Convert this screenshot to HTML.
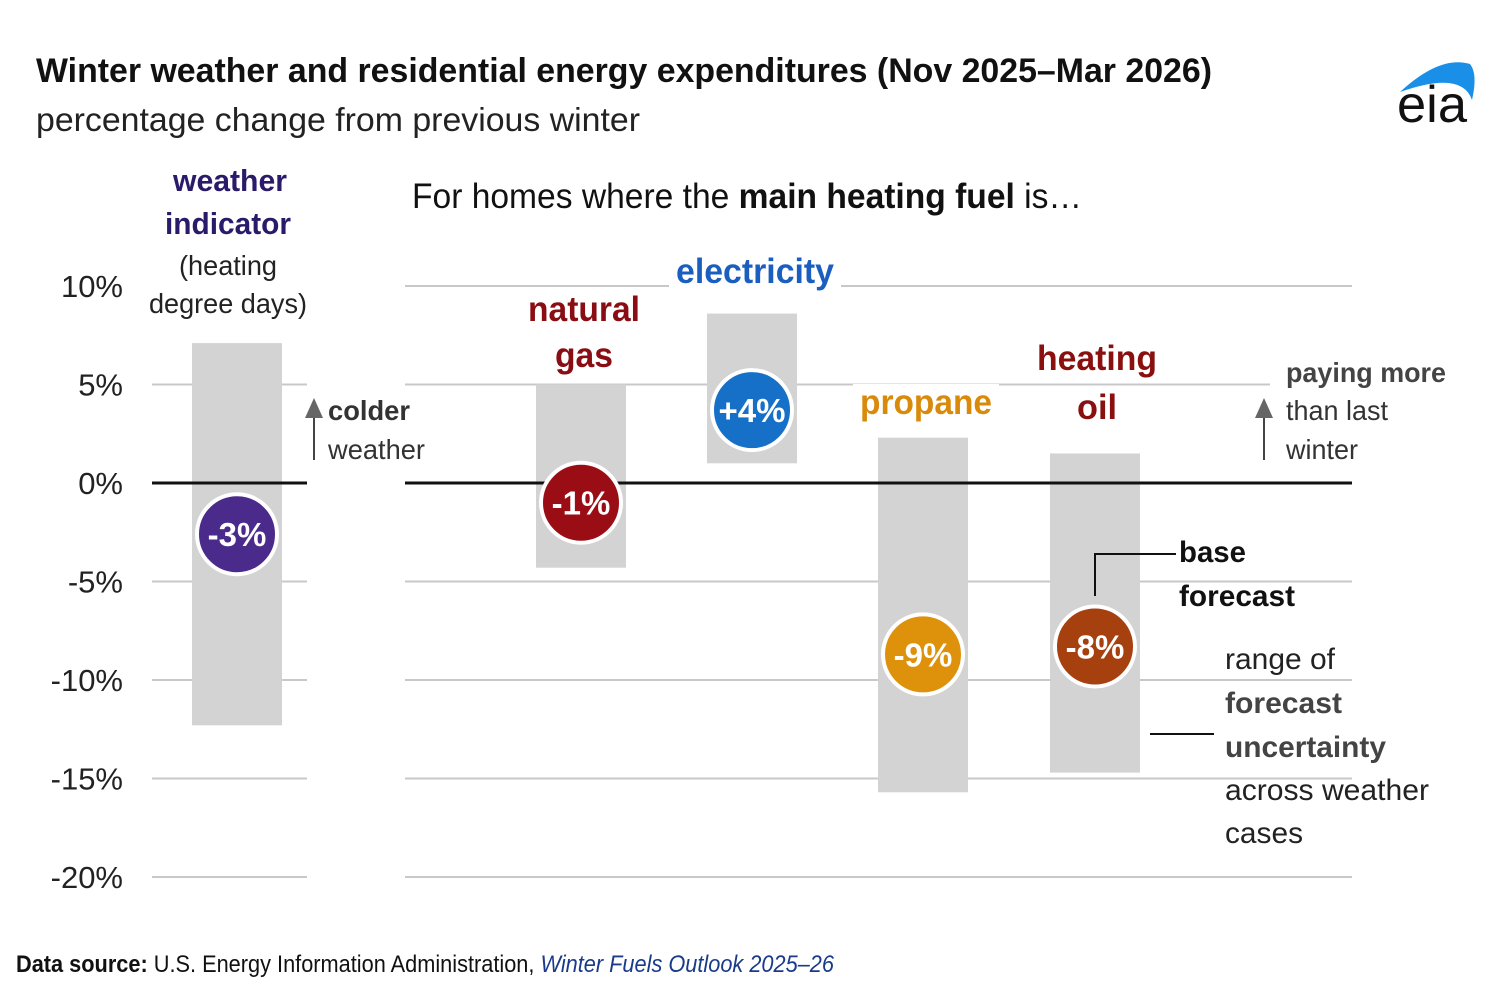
<!DOCTYPE html>
<html><head><meta charset="utf-8"><style>
body{margin:0;background:#fff;width:1500px;height:1000px;overflow:hidden;font-family:"Liberation Sans",sans-serif}
svg text{font-family:"Liberation Sans",sans-serif}
</style></head><body>
<svg id="c" width="1500" height="1000">
<text x="36" y="82" font-size="34" font-weight="bold" fill="#111" textLength="1176" lengthAdjust="spacingAndGlyphs">Winter weather and residential energy expenditures (Nov 2025–Mar 2026)</text>
<text x="36" y="131" font-size="33" fill="#222" textLength="604" lengthAdjust="spacingAndGlyphs">percentage change from previous winter</text>
<g>
<path d="M1400 92 Q1440 55 1470 64 Q1478 74 1472 100 Q1462 70 1400 92Z" fill="#1a8fe8"/>
<text x="1397" y="122" font-size="52" fill="#111" textLength="70" lengthAdjust="spacingAndGlyphs">eia</text>
</g>
<g id="grid"></g>
<g id="bars"></g>
<text x="230" y="191" text-anchor="middle" font-size="31" font-weight="bold" fill="#2a1a6a" textLength="114" lengthAdjust="spacingAndGlyphs">weather</text>
<text x="228" y="234" text-anchor="middle" font-size="31" font-weight="bold" fill="#2a1a6a" textLength="126" lengthAdjust="spacingAndGlyphs">indicator</text>
<rect x="140" y="250" width="180" height="70" fill="#fff"/>
<text x="228" y="275" text-anchor="middle" font-size="28" fill="#222" textLength="98" lengthAdjust="spacingAndGlyphs">(heating</text>
<text x="228" y="313" text-anchor="middle" font-size="28" fill="#222" textLength="158" lengthAdjust="spacingAndGlyphs">degree days)</text>
<text x="412" y="208" font-size="35" fill="#111" textLength="670" lengthAdjust="spacingAndGlyphs">For homes where the <tspan font-weight="bold">main heating fuel</tspan> is…</text>
<g>
<line x1="314" y1="416" x2="314" y2="460" stroke="#444" stroke-width="2"/><path d="M305 418 L314 398 L323 418Z" fill="#666"/>
<text x="328" y="420" font-size="28" font-weight="bold" fill="#333" textLength="82" lengthAdjust="spacingAndGlyphs">colder</text>
<text x="328" y="459" font-size="28" fill="#333" textLength="97" lengthAdjust="spacingAndGlyphs">weather</text>
</g>
<g>
<rect x="1270" y="355" width="190" height="40" fill="#fff"/>
<line x1="1264" y1="416" x2="1264" y2="460" stroke="#444" stroke-width="2"/><path d="M1255 418 L1264 398 L1273 418Z" fill="#666"/>
<text x="1286" y="382" font-size="28" font-weight="bold" fill="#444" textLength="160" lengthAdjust="spacingAndGlyphs">paying more</text>
<text x="1286" y="420" font-size="28" fill="#333" textLength="102" lengthAdjust="spacingAndGlyphs">than last</text>
<text x="1286" y="459" font-size="28" fill="#333" textLength="72" lengthAdjust="spacingAndGlyphs">winter</text>
</g>
<g>
<polyline points="1095,596 1095,554 1176,554" fill="none" stroke="#111" stroke-width="2"/>
<text x="1179" y="562" font-size="30" font-weight="bold" fill="#111" textLength="67" lengthAdjust="spacingAndGlyphs">base</text>
<text x="1179" y="606" font-size="30" font-weight="bold" fill="#111" textLength="116" lengthAdjust="spacingAndGlyphs">forecast</text>
</g>
<g>
<line x1="1150" y1="734" x2="1214" y2="734" stroke="#111" stroke-width="2"/>
<text x="1225" y="669" font-size="30" fill="#222" textLength="110" lengthAdjust="spacingAndGlyphs">range of</text>
<text x="1225" y="713" font-size="30" font-weight="bold" fill="#444" textLength="117" lengthAdjust="spacingAndGlyphs">forecast</text>
<text x="1225" y="757" font-size="30" font-weight="bold" fill="#444" textLength="161" lengthAdjust="spacingAndGlyphs">uncertainty</text>
<text x="1225" y="800" font-size="30" fill="#222" textLength="204" lengthAdjust="spacingAndGlyphs">across weather</text>
<text x="1225" y="843" font-size="30" fill="#222" textLength="78" lengthAdjust="spacingAndGlyphs">cases</text>
</g>
<text x="16" y="972" font-size="24" fill="#111" textLength="818" lengthAdjust="spacingAndGlyphs"><tspan font-weight="bold">Data source:</tspan> U.S. Energy Information Administration, <tspan font-style="italic" fill="#1a3a8a">Winter Fuels Outlook 2025–26</tspan></text>
</svg>
<script>
const categories=["weather indicator","natural gas","electricity","propane","heating oil"];
const baseValues=[-2.6,-1.0,3.7,-8.7,-8.3];
const baseLabels=["-3%","-1%","+4%","-9%","-8%"];
const rangeHigh=[7.1,5.0,8.6,2.3,1.5];
const rangeLow=[-12.3,-4.3,1.0,-15.7,-14.7];
const ticks=[10,5,0,-5,-10,-15,-20];
const tickLabels=["10%","5%","0%","-5%","-10%","-15%","-20%"];
const colors=["#4a2a8a","#9a0d14","#1770c8","#de920c","#a6400e"];
const centers=[237,581,752,923,1095];
const NS="http://www.w3.org/2000/svg";
function y(v){return 483-19.7*v;}
const grid=document.getElementById('grid'),bars=document.getElementById('bars');
function mk(tag,attrs,parent){const e=document.createElementNS(NS,tag);for(const k in attrs)e.setAttribute(k,attrs[k]);parent.appendChild(e);return e;}
ticks.forEach((t,i)=>{
  const segs=[[152,307],[405,1352]];
  if(t!==0) segs.forEach(s=>{const l=mk('line',{x1:s[0],x2:s[1],y1:y(t),y2:y(t),stroke:'#c8c8c8','stroke-width':2},grid);
  
  });
  const tx=mk('text',{x:123,y:y(t)+11,'text-anchor':'end','font-size':31,fill:'#222'},grid);
  tx.textContent=tickLabels[i];
  
  
});
categories.forEach((c,i)=>{
  const r=mk('rect',{x:centers[i]-45,width:90,y:y(rangeHigh[i]),height:y(rangeLow[i])-y(rangeHigh[i]),fill:'#d3d3d3'},bars);
  
  
});
[[152,307],[405,1352]].forEach(s=>{
  const l=mk('line',{x1:s[0],x2:s[1],y1:y(0),y2:y(0),stroke:'#111','stroke-width':3},bars);
  
  
});
const lbl=[null,[[584,321,'natural',112],[584,367,'gas',58]],[[755,283,'electricity',158]],[[926,414,'propane',132]],[[1097,370,'heating',120],[1097,419,'oil',40]]];
const lblCol=["#2a1a6a","#8a0d14","#1a5fbf","#d98a0a","#8a1010"];
lbl.forEach((L,i)=>{if(!L)return;L.forEach(p=>{
  const w=p[3]+14;
  mk('rect',{x:p[0]-w/2,y:p[1]-30,width:w,height:40,fill:'#fff'},bars);
  const t=mk('text',{x:p[0],y:p[1],'text-anchor':'middle','font-size':35,'font-weight':'bold',fill:lblCol[i],textLength:p[3],lengthAdjust:'spacingAndGlyphs'},bars);
  t.textContent=p[2];
  
  
});});
categories.forEach((c,i)=>{
  const cy=y(baseValues[i]);
  const ci=mk('circle',{cx:centers[i],cy:cy,r:40,fill:colors[i],stroke:'#fff','stroke-width':4},bars);
  
  
  const t=mk('text',{x:centers[i],y:cy+12,'text-anchor':'middle','font-size':33,'font-weight':'bold',fill:'#fff'},bars);
  t.textContent=baseLabels[i];
  
  
});
</script>
</body></html>
